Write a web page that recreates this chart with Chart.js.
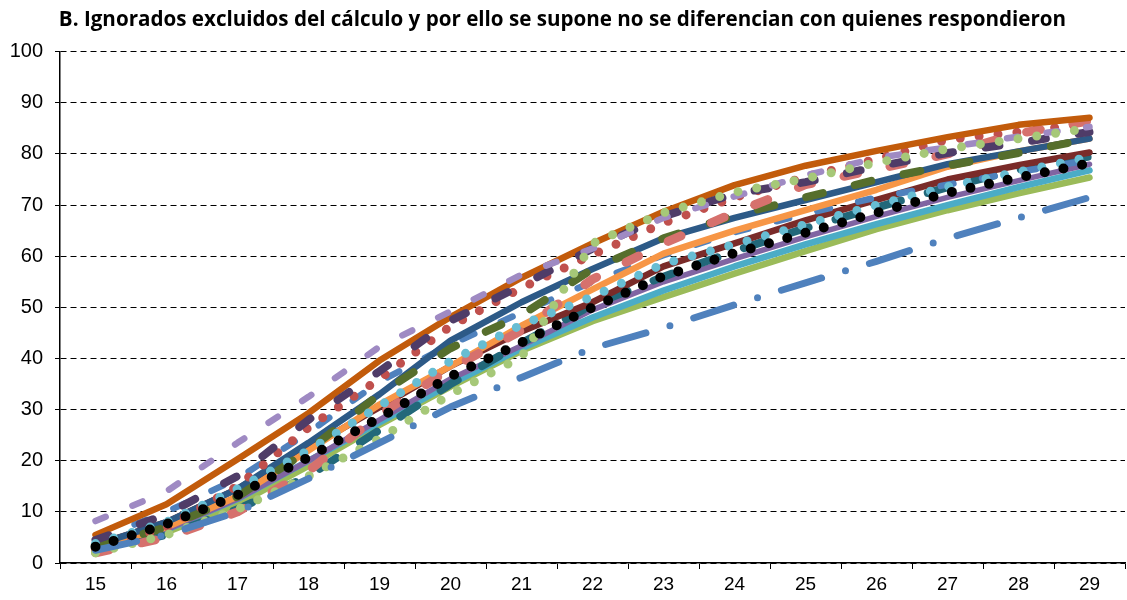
<!DOCTYPE html>
<html>
<head>
<meta charset="utf-8">
<script src="https://cdn.jsdelivr.net/npm/chart.js@4.4.0/dist/chart.umd.min.js"></script>
<style>
html,body{margin:0;padding:0;background:#fff;}
#wrap{width:1127px;height:600px;}
</style>
</head>
<body>
<div id="wrap"><canvas id="c" width="1127" height="600"></canvas></div>
<script>
const TITLE = 'B. Ignorados excluidos del cálculo y por ello se supone no se diferencian con quienes respondieron';
const categories = ['15','16','17','18','19','20','21','22','23','24','25','26','27','28','29'];
const yTicks = [0,10,20,30,40,50,60,70,80,90,100];

const orangeBrown  = [5.5, 11.5, 20.3, 29.3, 39.6, 48.1, 55.8, 62.5, 68.7, 73.9, 77.7, 80.6, 83.3, 85.7, 87.1];
const lavender     = [8.2, 14.0, 23.5, 32.5, 42.3, 49.2, 56.4, 61.5, 67.5, 71.7, 75.8, 79.2, 81.3, 83.4, 85.3];
const darkPurple   = [4.5, 9.5, 17.0, 28.0, 37.5, 47.4, 54.3, 61.5, 67.8, 72.2, 74.5, 77.5, 80.2, 82.2, 84.3];
const redDot       = [2.5, 7.0, 15.0, 26.5, 36.0, 46.3, 53.8, 60.3, 66.5, 71.5, 75.5, 79.0, 82.8, 84.3, 86.0];
const navy         = [3.5, 8.0, 14.5, 23.5, 33.0, 43.5, 51.0, 57.5, 63.5, 67.5, 71.0, 74.5, 78.0, 80.5, 83.0];
const olive        = [3.0, 7.0, 13.0, 22.0, 33.0, 42.0, 48.5, 57.5, 63.5, 68.0, 71.5, 75.0, 77.7, 80.2, 83.0];
const lightOrange  = [3.0, 7.0, 13.0, 22.0, 31.0, 38.5, 46.4, 53.5, 60.5, 65.0, 69.0, 73.0, 77.5, 80.5, 83.0];
const salmon       = [2.0, 5.0, 10.0, 18.0, 29.0, 38.0, 45.5, 55.5, 62.5, 68.5, 74.0, 77.0, 80.0, 84.0, 86.5];
const midBlueDash  = [4.5, 10.0, 16.5, 25.5, 35.5, 42.7, 49.0, 55.0, 60.2, 64.7, 68.3, 71.5, 74.0, 76.5, 78.8];
const maroon       = [3.5, 8.0, 14.5, 22.5, 30.5, 38.5, 45.3, 51.0, 58.0, 62.5, 67.0, 71.0, 75.0, 77.8, 80.3];
const darkTeal     = [2.5, 5.5, 10.5, 17.0, 26.0, 35.0, 43.0, 50.5, 56.0, 61.0, 65.5, 69.5, 73.5, 77.0, 79.5];
const lightTealDot = [3.8, 8.0, 14.5, 22.0, 30.7, 39.5, 46.6, 52.1, 58.5, 62.3, 66.2, 70.0, 73.6, 76.5, 79.4];
const blackDot     = [3.2, 7.6, 13.3, 20.7, 28.4, 36.5, 43.1, 50.0, 56.1, 60.6, 64.6, 68.5, 72.4, 75.4, 78.2];
const purple       = [3.0, 6.5, 12.5, 20.0, 28.0, 36.0, 42.5, 49.5, 55.0, 59.5, 63.8, 67.8, 71.5, 74.8, 78.0];
const cyan         = [3.0, 6.5, 12.5, 20.0, 27.5, 35.0, 42.0, 48.0, 53.3, 58.0, 62.3, 66.3, 70.0, 73.5, 76.8];
const green        = [2.5, 6.0, 11.5, 19.0, 27.0, 34.5, 41.5, 47.3, 52.0, 56.6, 61.0, 65.3, 69.0, 72.3, 75.4];
const greenDot     = [2.0, 5.5, 10.5, 17.0, 24.3, 33.0, 40.3, 62.5, 68.5, 72.5, 75.2, 78.3, 81.0, 83.0, 85.0];
const dashDot      = [2.5, 5.5, 10.0, 16.5, 23.5, 30.5, 36.3, 42.0, 46.0, 50.5, 54.8, 59.0, 63.5, 67.5, 71.5];

// drawing order: bottom -> top
const seriesSpecs = [
  {data: green,        color: '#9BBB59', width: 6.5, dash: []},
  {data: cyan,         color: '#4BACC6', width: 6.5, dash: []},
  {data: purple,       color: '#8064A2', width: 5.5, dash: []},
  {data: darkTeal,     color: '#22687A', width: 8, dash: [20, 28]},
  {data: maroon,       color: '#7A2B29', width: 6.5, dash: []},
  {data: midBlueDash,  color: '#4F81BD', width: 6.5, dash: [13, 29]},
  {data: lightOrange,  color: '#F79646', width: 6.5, dash: []},
  {data: navy,         color: '#2D5A87', width: 6.5, dash: []},
  {data: olive,        color: '#566E2C', width: 8, dash: [17, 33]},
  {data: redDot,       color: '#C0504D', width: 9, dash: [0, 19]},
  {data: salmon,       color: '#D6716D', width: 9, dash: [14, 33]},
  {data: orangeBrown,  color: '#C25B0B', width: 6.5, dash: []},
  {data: darkPurple,   color: '#4F3C68', width: 8, dash: [14, 33]},
  {data: lavender,     color: '#9F8AC3', width: 6.5, dash: [11, 29]},
  {data: greenDot,     color: '#A6C878', width: 9, dash: [0, 19]},
  {data: dashDot,      color: '#4F81BD', width: 7, dash: [42, 25, 0, 25]},
  {data: lightTealDot, color: '#67BDD3', width: 9, dash: [0, 19]},
  {data: blackDot,     color: '#000000', width: 10, dash: [0, 19]}
];

const datasets = seriesSpecs.map((s, i) => ({
  data: s.data,
  borderColor: s.color,
  backgroundColor: s.color,
  borderWidth: s.width,
  borderDash: s.dash,
  borderCapStyle: 'round',
  borderJoinStyle: 'round',
  pointRadius: 0,
  fill: false,
  tension: 0,
  order: seriesSpecs.length - i
}));

new Chart(document.getElementById('c'), {
  type: 'line',
  data: {labels: categories, datasets: datasets},
  options: {
    responsive: false,
    animation: false,
    devicePixelRatio: 1,
    layout: {padding: {left: 0, right: 2, top: 0, bottom: 0}},
    plugins: {
      legend: {display: false},
      tooltip: {enabled: false},
      title: {
        display: true,
        text: TITLE,
        color: '#000',
        font: {family: 'Open Sans', size: 20.6, weight: 'bold', lineHeight: 1.2},
        padding: {top: 8, bottom: 19}
      }
    },
    scales: {
      x: {
        offset: true,
        grid: {display: true, drawOnChartArea: false, drawTicks: true, tickLength: 6, color: '#000', offset: true},
        border: {display: true, color: '#000', width: 1.5},
        ticks: {color: '#000', font: {family: 'Liberation Sans', size: 19}, padding: 4, maxRotation: 0, autoSkip: false},
        afterFit: (s) => { s.height = 37; }
      },
      y: {
        min: 0, max: 100,
        afterBuildTicks: (s) => { s.ticks = yTicks.map(v => ({value: v})); },
        ticks: {color: '#000', font: {family: 'Liberation Sans', size: 20}, padding: 12},
        grid: {color: '#000', lineWidth: 1, tickLength: 5, drawTicks: true, tickBorderDash: [], tickColor: '#000'},
        border: {display: true, color: '#000', width: 1.5, dash: [6, 4]},
        afterFit: (s) => { s.width = 60; }
      }
    }
  }
});
</script>
</body>
</html>
